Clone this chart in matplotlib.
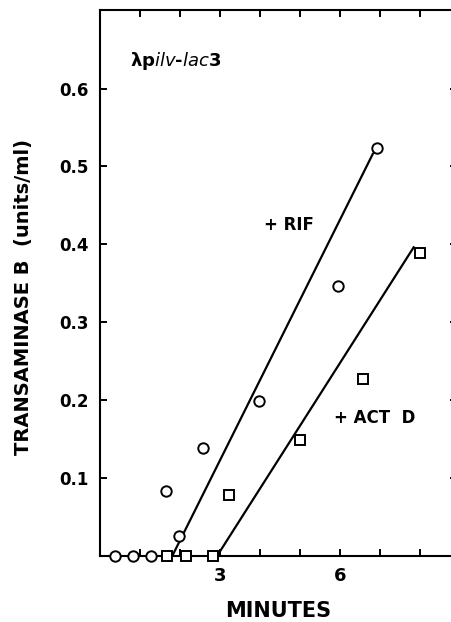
import numpy as np
import matplotlib
matplotlib.use("Agg")
import matplotlib.pyplot as plt

# transaminase B accumulation after drug addition (minutes, units/ml)
rif_t   = [0.37, 0.83, 1.27, 1.65, 1.98, 2.56, 3.98, 5.94, 6.92]
rif_v   = [0.0, 0.0, 0.0, 0.083, 0.025, 0.138, 0.199, 0.346, 0.523]
actd_t  = [1.68, 2.15, 2.82, 3.22, 5.00, 6.57, 7.98]
actd_v  = [0.0, 0.0, 0.0, 0.078, 0.148, 0.227, 0.389]

# hand-drawn fit lines (end points)
rif_fit_t  = [1.81, 6.81]
rif_fit_v  = [0.0, 0.516]
actd_fit_t = [2.93, 7.83]
actd_fit_v = [0.0, 0.396]

xticks = np.arange(0, 9)
xticklabels = ["" if t not in (3, 6) else str(t) for t in xticks]
yticks = [0.1, 0.2, 0.3, 0.4, 0.5, 0.6]
yticklabels = ["0.1", "0.2", "0.3", "0.4", "0.5", "0.6"]

plt.rcParams["font.family"] = "DejaVu Sans"

fig = plt.figure(figsize=(4.52, 6.22), dpi=100)
ax = fig.add_axes([0.2212, 0.1069, 0.7888, 0.8771])

lw = 1.6
ax.plot(rif_fit_t, rif_fit_v, color="black", lw=lw, zorder=2)
ax.plot(actd_fit_t, actd_fit_v, color="black", lw=lw, zorder=2)
ax.plot(rif_t, rif_v, "o", ms=7.5, mfc="white", mec="black", mew=1.4,
        clip_on=False, zorder=3)
ax.plot(actd_t, actd_v, "s", ms=6.8, mfc="white", mec="black", mew=1.4,
        clip_on=False, zorder=3)

ax.set_xlim(0, 8.9)
ax.set_ylim(0, 0.701)
ax.set_xticks(xticks)
ax.set_xticklabels(xticklabels, fontsize=13, fontweight="bold")
ax.set_yticks(yticks)
ax.set_yticklabels(yticklabels, fontsize=12, fontweight="bold")
ax.tick_params(direction="in", length=5, width=1.4, top=True, right=True,
               pad=8)
for s in ax.spines.values():
    s.set_linewidth(1.5)

ax.set_xlabel("MINUTES", fontsize=15, fontweight="bold")
ax.xaxis.set_label_coords(0.5, -0.083)
ax.set_ylabel("TRANSAMINASE B  (units/ml)", fontsize=14, fontweight="bold")
ax.yaxis.set_label_coords(-0.188, 0.474)

ax.text(0.75, 0.635, "\u03bbp$\\mathit{ilv}$-$\\mathit{lac}$3",
        fontsize=13, fontweight="bold", va="center")
ax.text(4.1, 0.425, "+ RIF", fontsize=12, fontweight="bold", va="center")
ax.text(5.85, 0.177, "+ ACT  D", fontsize=12, fontweight="bold", va="center")

fig.savefig("out.png", dpi=100)
